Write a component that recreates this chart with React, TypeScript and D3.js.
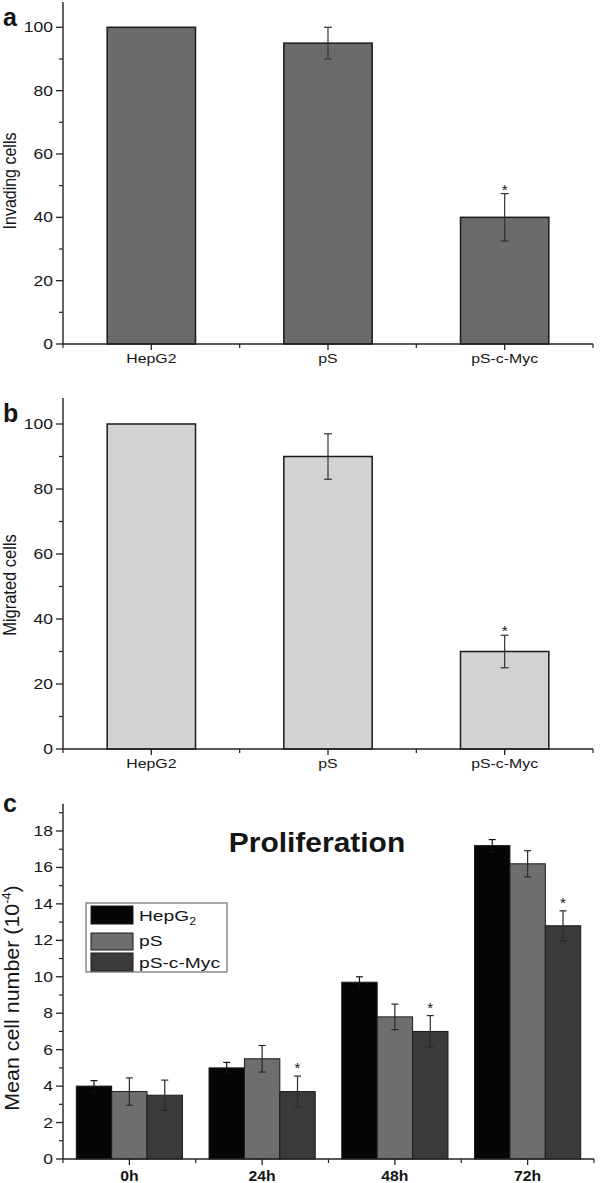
import React from "react";
import * as d3 from "d3";

// ---------- data ----------
const groupsAB = ["HepG2", "pS", "pS-c-Myc"];
const invading = [100, 95, 40];
const invadingErr = [0, 5, 7.5];
const invadingSig = [false, false, true];

const migrated = [100, 90, 30];
const migratedErr = [0, 7, 5];
const migratedSig = [false, false, true];

const timepoints = ["0h", "24h", "48h", "72h"];
const seriesNames = ["HepG2", "pS", "pS-c-Myc"];
const hepg2 = [4.0, 5.0, 9.7, 17.2];
const hepg2Err = [0.3, 0.3, 0.3, 0.33];
const psVals = [3.7, 5.5, 7.8, 16.2];
const psErr = [0.75, 0.73, 0.7, 0.72];
const psMyc = [3.5, 3.7, 7.0, 12.8];
const psMycErr = [0.83, 0.85, 0.87, 0.82];
const psMycSig = [false, true, true, true];

const abTicksMajor = [0, 20, 40, 60, 80, 100];
const abTicksMinor = [10, 30, 50, 70, 90];
const cTicksMajor = [0, 2, 4, 6, 8, 10, 12, 14, 16, 18];
const cTicksMinor = [1, 3, 5, 7, 9, 11, 13, 15, 17, 19];

// ---------- style ----------
const FONT = "'Liberation Sans', Arial, Helvetica, sans-serif";
const INK = "#151515";
const AXIS = "#222";
const SX = 1.25;

const Txt = ({ x, y, sx = SX, anchor = "start", size = 14, weight = "normal", children }: any) => (
  <text
    transform={`translate(${x},${y}) scale(${sx},1)`}
    textAnchor={anchor}
    fontSize={size}
    fontWeight={weight}
    fontFamily={FONT}
    fill={INK}
  >
    {children}
  </text>
);

const ErrBar = ({ x, y1, y2, cap = 8, color = "#333" }: any) => (
  <g stroke={color} strokeWidth={1.2}>
    <line x1={x} x2={x} y1={y1} y2={y2} />
    <line x1={x - cap / 2} x2={x + cap / 2} y1={y1} y2={y1} />
    <line x1={x - cap / 2} x2={x + cap / 2} y1={y2} y2={y2} />
  </g>
);

const X0 = 63;
const X1 = 593;

function BarPanel({ letter, title, values, errs, sig, y0, y100, yTopVal, fill, titleSize, titleY }: any) {
  const x = d3.scaleBand<string>().domain(groupsAB).range([X0, X1]).paddingInner(0.5).paddingOuter(0.25);
  const y = d3.scaleLinear().domain([0, 100]).range([y0, y100]);
  const step = x.step();
  const centers = groupsAB.map((g) => (x(g) as number) + x.bandwidth() / 2);
  const minorX = [X0, ...centers.map((c) => c + step / 2)];
  const yTop = y(yTopVal);
  return (
    <g>
      <Txt x={3} y={yTop + 24} sx={1} size={25} weight="bold">{letter}</Txt>
      <text
        transform={`translate(16,${titleY}) scale(1.15,1) rotate(-90)`}
        textAnchor="middle"
        fontSize={titleSize}
        fontFamily={FONT}
        fill={INK}
      >
        {title}
      </text>
      {/* bars */}
      {groupsAB.map((g, i) => (
        <rect
          key={g}
          x={x(g)}
          y={y(values[i])}
          width={x.bandwidth()}
          height={y(0) - y(values[i])}
          fill={fill}
          stroke="#1a1a1a"
          strokeWidth={1.5}
        />
      ))}
      {groupsAB.map((g, i) =>
        errs[i] > 0 ? (
          <ErrBar key={"e" + g} x={centers[i]} y1={y(values[i] + errs[i])} y2={y(values[i] - errs[i])} />
        ) : null
      )}
      {groupsAB.map((g, i) =>
        sig[i] ? (
          <Txt key={"s" + g} x={centers[i]} y={y(values[i] + errs[i]) + 1} sx={1} anchor="middle" size={15} >
            *
          </Txt>
        ) : null
      )}
      {/* y axis */}
      <line x1={X0} x2={X0} y1={yTop} y2={y(0)} stroke={AXIS} strokeWidth={1.4} />
      {abTicksMajor.map((t) => (
        <g key={"ym" + t}>
          <line x1={X0 - 7} x2={X0} y1={y(t)} y2={y(t)} stroke={AXIS} strokeWidth={1.3} />
          <Txt x={53} y={y(t) + 5} anchor="end" size={14}>{t}</Txt>
        </g>
      ))}
      {abTicksMinor.map((t) => (
        <line key={"yn" + t} x1={X0 - 4} x2={X0} y1={y(t)} y2={y(t)} stroke={AXIS} strokeWidth={1.2} />
      ))}
      {/* x axis */}
      <line x1={X0} x2={X1} y1={y(0)} y2={y(0)} stroke={AXIS} strokeWidth={1.4} />
      {centers.map((c, i) => (
        <g key={"xm" + i}>
          <line x1={c} x2={c} y1={y(0)} y2={y(0) + 6} stroke={AXIS} strokeWidth={1.3} />
          <Txt x={c} y={y(0) + 19} anchor="middle" size={13} sx={1.22}>{groupsAB[i]}</Txt>
        </g>
      ))}
      {minorX.map((m, i) => (
        <line key={"xn" + i} x1={m} x2={m} y1={y(0)} y2={y(0) + 4} stroke={AXIS} strokeWidth={1.2} />
      ))}
    </g>
  );
}

function ProliferationPanel() {
  const x0 = d3.scaleBand<string>().domain(timepoints).range([X0, X1 + 1]).paddingInner(0.2).paddingOuter(0.1);
  const x1 = d3.scaleBand<string>().domain(seriesNames).range([0, x0.bandwidth()]);
  const y = d3.scaleLinear().domain([0, 18]).range([1159, 831]);
  const colors = d3.scaleOrdinal<string, string>().domain(seriesNames).range(["#050505", "#6e6e6e", "#3a3a3a"]);
  const vals = [hepg2, psVals, psMyc];
  const errs = [hepg2Err, psErr, psMycErr];
  const step = x0.step();
  const centers = timepoints.map((t) => (x0(t) as number) + x0.bandwidth() / 2);
  const minorX = [X0, ...centers.map((c) => c + step / 2)];
  const yTop = y(19.5);
  const legendItems = [
    { name: "HepG", sub: "2", y0: 906, y1: 924, ty: 921 },
    { name: "pS", sub: "", y0: 933, y1: 950, ty: 946 },
    { name: "pS-c-Myc", sub: "", y0: 953, y1: 971, ty: 968 },
  ];
  return (
    <g>
      <Txt x={3} y={812} sx={1} size={25} weight="bold">c</Txt>
      <text
        transform={`translate(19,998) rotate(-90) scale(1.07,1)`}
        textAnchor="middle"
        fontSize={20}
        fontFamily={FONT}
        fill={INK}
      >
        <tspan>Mean cell number (10</tspan>
        <tspan dy={-8} fontSize={12}>-4</tspan>
        <tspan dy={8}>)</tspan>
      </text>
      <Txt x={317} y={852} sx={1.07} anchor="middle" size={28} weight="bold">Proliferation</Txt>
      {/* bars */}
      {timepoints.map((t, ti) =>
        seriesNames.map((s, si) => (
          <rect
            key={t + s}
            x={(x0(t) as number) + (x1(s) as number)}
            y={y(vals[si][ti])}
            width={x1.bandwidth()}
            height={y(0) - y(vals[si][ti])}
            fill={colors(s)}
            stroke="#1a1a1a"
            strokeWidth={1}
          />
        ))
      )}
      {timepoints.map((t, ti) =>
        seriesNames.map((s, si) => {
          const cx = (x0(t) as number) + (x1(s) as number) + x1.bandwidth() / 2;
          return (
            <ErrBar
              key={"e" + t + s}
              x={cx}
              y1={y(vals[si][ti] + errs[si][ti])}
              y2={y(vals[si][ti] - errs[si][ti])}
              cap={7}
              color={si === 0 ? "#111" : "#2a2a2a"}
            />
          );
        })
      )}
      {timepoints.map((t, ti) => {
        if (!psMycSig[ti]) return null;
        const cx = (x0(t) as number) + (x1("pS-c-Myc") as number) + x1.bandwidth() / 2;
        return (
          <Txt key={"s" + t} x={cx} y={y(psMyc[ti] + psMycErr[ti]) - 3} sx={1} anchor="middle" size={15}>
            *
          </Txt>
        );
      })}
      {/* legend */}
      <rect x={86} y={903} width={141} height={69} fill="white" stroke="#8a8a8a" strokeWidth={1.5} />
      {legendItems.map((it, i) => (
        <g key={it.name}>
          <rect x={91} y={it.y0} width={42} height={it.y1 - it.y0} fill={colors(seriesNames[i])} stroke="#1a1a1a" strokeWidth={1} />
          <text
            transform={`translate(139,${it.ty}) scale(1.24,1)`}
            fontSize={15.5}
            fontFamily={FONT}
            fill={INK}
          >
            {it.name}
            {it.sub ? (
              <tspan dy={4} fontSize={10}>{it.sub}</tspan>
            ) : null}
          </text>
        </g>
      ))}
      {/* y axis */}
      <line x1={X0} x2={X0} y1={yTop} y2={y(0)} stroke={AXIS} strokeWidth={1.4} />
      {cTicksMajor.map((t) => (
        <g key={"ym" + t}>
          <line x1={X0 - 7} x2={X0} y1={y(t)} y2={y(t)} stroke={AXIS} strokeWidth={1.3} />
          <Txt x={53} y={y(t) + 5} anchor="end" size={14}>{t}</Txt>
        </g>
      ))}
      {cTicksMinor.map((t) => (
        <line key={"yn" + t} x1={X0 - 4} x2={X0} y1={y(t)} y2={y(t)} stroke={AXIS} strokeWidth={1.2} />
      ))}
      {/* x axis */}
      <line x1={X0} x2={X1 + 1} y1={y(0)} y2={y(0)} stroke={AXIS} strokeWidth={1.4} />
      {centers.map((c, i) => (
        <g key={"xm" + i}>
          <line x1={c} x2={c} y1={y(0)} y2={y(0) + 6} stroke={AXIS} strokeWidth={1.3} />
          <Txt x={c} y={y(0) + 22} anchor="middle" size={15} sx={1.05} weight="bold">{timepoints[i]}</Txt>
        </g>
      ))}
      {minorX.map((m, i) => (
        <line key={"xn" + i} x1={m} x2={m} y1={y(0)} y2={y(0) + 4} stroke={AXIS} strokeWidth={1.2} />
      ))}
    </g>
  );
}

export default function App() {
  return (
    <svg
      width={600}
      height={1183}
      viewBox="0 0 600 1183"
      style={{ position: "absolute", left: 0, top: 0, display: "block", background: "white" }}
    >
      <rect x={0} y={0} width={600} height={1183} fill="white" />
      <BarPanel
        letter="a"
        title="Invading cells"
        values={invading}
        errs={invadingErr}
        sig={invadingSig}
        y0={344}
        y100={27.3}
        yTopVal={108}
        fill="#6a6a6a"
        titleSize={16}
        titleY={181}
      />
      <BarPanel
        letter="b"
        title="Migrated cells"
        values={migrated}
        errs={migratedErr}
        sig={migratedSig}
        y0={749}
        y100={424}
        yTopVal={108}
        fill="#d3d3d3"
        titleSize={16.5}
        titleY={585}
      />
      <ProliferationPanel />
    </svg>
  );
}
